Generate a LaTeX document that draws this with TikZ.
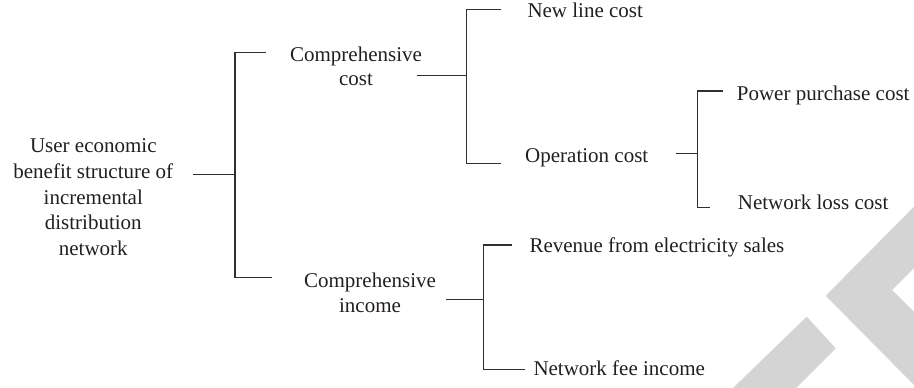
\documentclass[tikz,border=0pt]{standalone}
\usepackage{fontspec}
\setmainfont{Liberation Serif}
\definecolor{txt}{HTML}{231F20}
\definecolor{ln}{HTML}{303030}
\definecolor{wm}{HTML}{D4D4D4}
\begin{document}
\begin{tikzpicture}[x=1pt,y=-1pt,
  lbl/.style={inner sep=0pt, text=txt, font=\fontsize{21}{25.6}\selectfont},
  multi/.style={lbl, align=center, anchor=north},
  multism/.style={multi, font=\fontsize{21}{24.2}\selectfont},
  single/.style={lbl, anchor=base west},
  conn/.style={draw=ln, line width=1.3pt, line cap=butt, line join=miter}]
\useasboundingbox (0,0) rectangle (914,388);
% watermark
\fill[wm] (914,206.7) -- (825.7,295.7) -- (914,385) -- (914,311.7) -- (892,290) -- (914,268) -- cycle;
\fill[wm] (806.7,316.7) -- (835.7,348.3) -- (796,388) -- (733,388) -- cycle;
% nodes
\node[multi] (root) at (93.3,137.7) {\rule{0pt}{15pt}User economic\\benefit structure of\\incremental\\distribution\\network};
\node[multism] (ccost) at (356,46.5) {\rule{0pt}{15pt}Comprehensive\\cost};
\node[multism] (cinc) at (370,272.7) {\rule{0pt}{15pt}Comprehensive\\income};
\node[single] (newline) at (527.3,17.3) {New line cost};
\node[single] (oper) at (525,162.5) {Operation cost};
\node[single] (power) at (736.7,100) {Power purchase cost};
\node[single] (loss) at (737.7,209.5) {Network loss cost};
\node[single] (rev) at (529.3,252.5) {Revenue from electricity sales};
\node[single] (fee) at (533.3,375.5) {Network fee income};
% connector coordinates
\coordinate (r0) at (193,174.3);
\coordinate (r1) at (235,174.3);
\coordinate (r1t) at (235,52.7);
\coordinate (r1b) at (235,277.7);
\coordinate (r1te) at (265.7,52.7);
\coordinate (r1be) at (272.3,277.7);
\coordinate (c0) at (416.7,75.5);
\coordinate (c1) at (466.7,75.5);
\coordinate (c1t) at (466.7,9.3);
\coordinate (c1b) at (466.7,163.3);
\coordinate (c1te) at (500.7,9.3);
\coordinate (c1be) at (500.7,163.3);
\coordinate (o0) at (676,153.3);
\coordinate (o1) at (697.3,153.3);
\coordinate (o1t) at (697.3,91);
\coordinate (o1b) at (697.3,207.3);
\coordinate (o1te) at (722.7,91);
\coordinate (o1be) at (710,207.3);
\coordinate (i0) at (446,299.3);
\coordinate (i1) at (483.3,299.3);
\coordinate (i1t) at (483.3,245);
\coordinate (i1b) at (483.3,369.3);
\coordinate (i1te) at (512.3,245);
\coordinate (i1be) at (525,369.3);
% connectors
\draw[conn] (r0) -- (r1);
\draw[conn] (r1te) -- (r1t) -- (r1b) -- (r1be);
\draw[conn] (c0) -- (c1);
\draw[conn] (c1te) -- (c1t) -- (c1b) -- (c1be);
\draw[conn] (o0) -- (o1);
\draw[conn] (o1te) -- (o1t) -- (o1b) -- (o1be);
\draw[conn] (i0) -- (i1);
\draw[conn] (i1te) -- (i1t) -- (i1b) -- (i1be);
\end{tikzpicture}
\end{document}
